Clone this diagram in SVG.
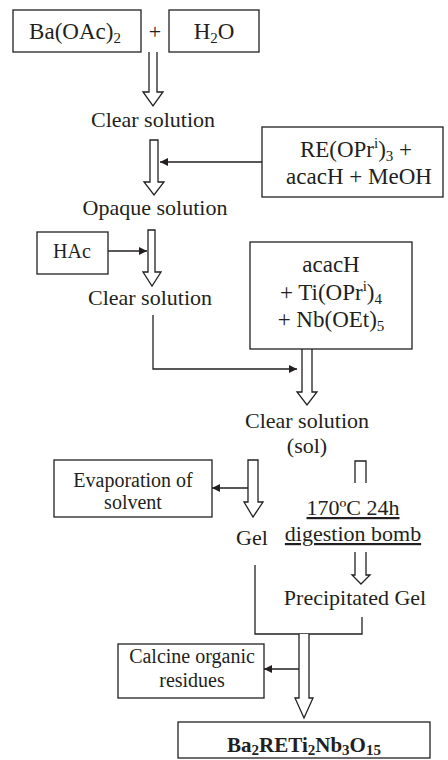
<svg xmlns="http://www.w3.org/2000/svg" width="448" height="760" viewBox="0 0 448 760">
<defs>
<style>
text{font-family:"Liberation Serif","Times New Roman",serif;fill:#231f20;text-anchor:middle}
.t{font-size:22px}
.b{font-size:20px}
.r{font-size:23px}
.box{fill:#fff;stroke:#231f20;stroke-width:1.3}
.ln{fill:none;stroke:#231f20;stroke-width:1.3}
.ha{fill:#fff;stroke:#231f20;stroke-width:1.3;stroke-linejoin:miter}
.u{text-decoration:underline}
</style>
<marker id="ah" viewBox="0 0 10 10" refX="10" refY="5" markerWidth="9" markerHeight="8" markerUnits="userSpaceOnUse" orient="auto">
<path d="M0,0 L10,5 L0,10 z" fill="#231f20"/>
</marker>
</defs>
<rect width="448" height="760" fill="#fff"/>

<g id="connectors">
<path class="ha" d="M149,52 V92 H143 L153,106 L163,92 H157 V52"/>
<path class="ha" d="M150,140 H158 V182 H164 L154,195 L144,182 H150 Z"/>
<line class="ln" x1="262" y1="162" x2="160" y2="162" marker-end="url(#ah)"/>
<path class="ha" d="M148,230 H155 V272 H161 L152,286 L143,272 H148 Z"/>
<line class="ln" x1="108" y1="251" x2="147" y2="251" marker-end="url(#ah)"/>
<path class="ln" d="M153,315 V369 H297" marker-end="url(#ah)"/>
<path class="ha" d="M302,349 V392 H297 L307,405 L317,392 H312 V349"/>
<path class="ha" d="M248,460 H258 V502 H263 L253,517 L244,502 H248 Z"/>
<line class="ln" x1="248" y1="488" x2="212" y2="488" marker-end="url(#ah)"/>
<path class="ha" d="M355,483 V461 H366 V483"/>
<path class="ha" d="M355,552 V575 H352 L361,584 L370,575 H366 V552"/>
<path class="ln" d="M255,565 V634 H362 V617"/>
<path class="ha" d="M299,634 V698 H295 L304,718 L313,698 H309 V634"/>
<line class="ln" x1="299" y1="669" x2="264" y2="669" marker-end="url(#ah)"/>
</g>

<g id="baoac">
<rect class="box" x="13" y="10" width="128" height="42"/>
<text class="r" x="75" y="39">Ba(OAc)<tspan font-size="15" dy="4">2</tspan></text>
</g>
<g id="plus"><text class="t" x="155" y="39">+</text></g>
<g id="h2o">
<rect class="box" x="169" y="10" width="90" height="42"/>
<text class="r" x="214" y="39">H<tspan font-size="15" dy="4">2</tspan><tspan dy="-4">O</tspan></text>
</g>
<g id="clear1"><text class="t" x="153" y="127">Clear solution</text></g>
<g id="re">
<rect class="box" x="262" y="127" width="181" height="70"/>
<text class="r" x="356" y="157">RE(OPr<tspan font-size="15" dy="-9">i</tspan><tspan dy="9">)</tspan><tspan font-size="15" dy="4">3</tspan><tspan dy="-4"> +</tspan></text>
<text class="r" x="359" y="184">acacH + MeOH</text>
</g>
<g id="opaque"><text class="t" x="155" y="215">Opaque solution</text></g>
<g id="hac">
<rect class="box" x="37" y="232" width="71" height="42"/>
<text class="b" x="72" y="258">HAc</text>
</g>
<g id="clear2"><text class="t" x="150" y="305">Clear solution</text></g>
<g id="acach">
<rect class="box" x="250" y="242" width="162" height="107"/>
<text class="r" x="331" y="272">acacH</text>
<text class="r" x="331" y="300">+ Ti(OPr<tspan font-size="15" dy="-9">i</tspan><tspan dy="9">)</tspan><tspan font-size="15" dy="4">4</tspan></text>
<text class="r" x="331" y="327">+ Nb(OEt)<tspan font-size="15" dy="4">5</tspan></text>
</g>
<g id="sol">
<text class="t" x="307" y="428">Clear solution</text>
<text class="t" x="307" y="453">(sol)</text>
</g>
<g id="evap">
<rect class="box" x="54" y="460" width="158" height="57"/>
<text class="b" x="133" y="487">Evaporation of</text>
<text class="b" x="133" y="509">solvent</text>
</g>
<g id="bomb">
<text class="t u" x="353" y="515">170ºC 24h</text>
<text class="t u" x="353" y="541">digestion bomb</text>
</g>
<g id="gel"><text class="t" x="252" y="545">Gel</text></g>
<g id="pgel"><text class="t" x="355" y="605">Precipitated Gel</text></g>
<g id="calcine">
<rect class="box" x="118" y="644" width="146" height="54"/>
<text class="b" x="192" y="663">Calcine organic</text>
<text class="b" x="192" y="687">residues</text>
</g>
<g id="product">
<rect class="box" x="178" y="722" width="252" height="36"/>
<text x="304" y="752" font-size="21" font-weight="bold">Ba<tspan font-size="15" dy="3">2</tspan><tspan dy="-3">RETi</tspan><tspan font-size="15" dy="3">2</tspan><tspan dy="-3">Nb</tspan><tspan font-size="15" dy="3">3</tspan><tspan dy="-3">O</tspan><tspan font-size="15" dy="3">15</tspan></text>
</g>
</svg>
